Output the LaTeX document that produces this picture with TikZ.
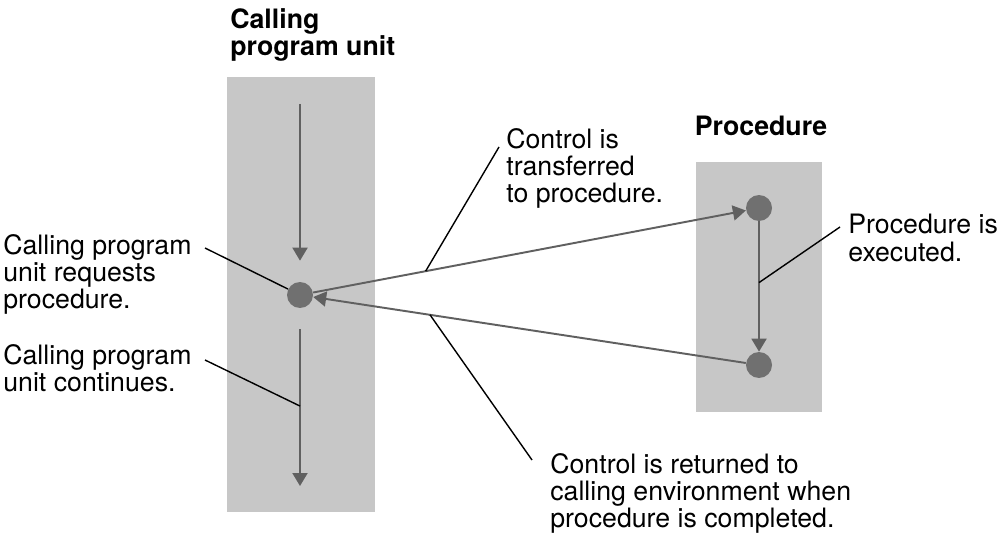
\documentclass[tikz,border=0pt]{standalone}
\usepackage{fontspec}
\setmainfont{TeX Gyre Heros}
\usetikzlibrary{arrows.meta}
\definecolor{panelgray}{RGB}{199,199,199}
\definecolor{dotgray}{RGB}{112,112,112}
\definecolor{flowgray}{RGB}{96,96,96}

\begin{document}
\begin{tikzpicture}[x=0.02cm, y=-0.02cm,
  every node/.style={font=\fontsize{15.2}{15.5}\selectfont},
  lbl/.style={align=left, inner sep=0pt, anchor=north west},
  ttl/.style={lbl, font=\fontsize{15.2}{14.5}\selectfont\bfseries},
  dot/.style={circle, fill=dotgray, inner sep=0pt, minimum size=5.2mm},
  flow/.style={flowgray, line width=1.1pt, -{Triangle[length=2.6mm, width=3mm]}},
  leader/.style={black, line width=0.8pt}]
  \useasboundingbox (0,0) rectangle (1000,547);

  % Panels
  \fill[panelgray] (227,77) rectangle (375,512);
  \fill[panelgray] (696,162) rectangle (822,412);

  % Titles
  \node[ttl] (calltitle) at (230,8) {Calling\\program unit};
  \node[ttl, anchor=north] (proctitle) at (761,116) {Procedure};

  % Call points
  \node[dot] (cdot) at (300,295) {};
  \node[dot] (ptop) at (759,208) {};
  \node[dot] (pbot) at (759,365) {};
  \coordinate (cstart) at (300,104);
  \coordinate (cend) at (300,486);

  % Flow arrows
  \draw[flow, shorten >=4.2mm] (cstart) -- (cdot);
  \draw[flow, shorten <=4.2mm] (cdot) -- coordinate[pos=0.55] (cmid) (cend);
  \draw[flow] (cdot) -- coordinate[pos=0.26] (xmid) (ptop);
  \draw[flow] (pbot) -- coordinate[pos=0.73] (rmid) (cdot);
  \draw[flow] (ptop) -- coordinate[pos=0.47] (pmid) (pbot);

  % Labels
  \node[lbl] (reqlbl) at (3,234) {Calling program\\unit requests\\procedure.};
  \node[lbl] (contlbl) at (3,344) {Calling program\\unit continues.};
  \node[lbl] (xferlbl) at (506,128) {Control is\\transferred\\to procedure.};
  \node[lbl] (execlbl) at (848,214) {Procedure is\\executed.};
  \node[lbl] (retlbl) at (550,453) {Control is returned to\\calling environment when\\procedure is completed.};

  % Leaders
  \coordinate (reqend) at (205,248);
  \coordinate (contend) at (205,360);
  \coordinate (xferend) at (499,147);
  \coordinate (retend) at (532,460);
  \coordinate (execend) at (840,227);
  \draw[leader] (reqend) -- (cdot);
  \draw[leader] (contend) -- (cmid);
  \draw[leader] (xferend) -- (xmid);
  \draw[leader] (retend) -- (rmid);
  \draw[leader] (execend) -- (pmid);
\end{tikzpicture}
\end{document}
